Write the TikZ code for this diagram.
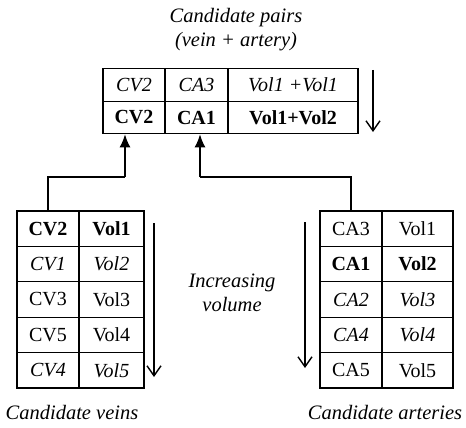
\documentclass[tikz,border=0pt]{standalone}
\usepackage{fontspec}
\setmainfont{Liberation Serif}
\usetikzlibrary{arrows.meta, positioning}

\begin{document}
\begin{tikzpicture}[x=1pt, y=-1pt,
		every node/.style = {font=\fontsize{20}{22}\selectfont},
		cell/.style = {draw, line width=1.2pt, inner sep=0pt, minimum height=35.4pt},
		toprow/.style = {draw, line width=1.2pt, inner sep=0pt, minimum height=32.5pt},
		lbl/.style = {font=\fontsize{20.5}{24}\selectfont\itshape, align=center},
		link/.style = {draw=black, line width=1.4pt},
		fall/.style = {draw=black, line width=1.4pt, -{Straight Barb[length=10pt, width=14pt]}}
                    ]
		\useasboundingbox (0,0) rectangle (466,428);

		% candidate pairs
		\node(title) [lbl] at (236,30) {Candidate pairs\\(vein + artery)};
		\node(p1a) [toprow, minimum width=62pt]  at (134,85) {\itshape CV2};
		\node(p1b) [toprow, minimum width=63pt]  at (196.5,85) {\itshape CA3};
		\node(p1c) [toprow, minimum width=130pt] at (293,85) {\itshape Vol1 +Vol1};
		\node(p2a) [toprow, minimum width=62pt]  at (134,117.5) {\bfseries CV2};
		\node(p2b) [toprow, minimum width=63pt]  at (196.5,117.5) {\bfseries CA1};
		\node(p2c) [toprow, minimum width=130pt] at (293,117.5) {\bfseries Vol1+Vol2};

		% candidate veins
		\node(v1a) [cell, minimum width=62pt] at (48,228.7) {\bfseries CV2};
		\node(v1b) [cell, minimum width=65pt] at (111.5,228.7) {\bfseries Vol1};
		\node(v2a) [cell, minimum width=62pt] at (48,264.1) {\itshape CV1};
		\node(v2b) [cell, minimum width=65pt] at (111.5,264.1) {\itshape Vol2};
		\node(v3a) [cell, minimum width=62pt] at (48,299.5) {CV3};
		\node(v3b) [cell, minimum width=65pt] at (111.5,299.5) {Vol3};
		\node(v4a) [cell, minimum width=62pt] at (48,334.9) {CV5};
		\node(v4b) [cell, minimum width=65pt] at (111.5,334.9) {Vol4};
		\node(v5a) [cell, minimum width=62pt] at (48,370.3) {\itshape CV4};
		\node(v5b) [cell, minimum width=65pt] at (111.5,370.3) {\itshape Vol5};
		\node(veins) [lbl] at (72,412) {Candidate veins};

		% candidate arteries
		\node(a1a) [cell, minimum width=62pt] at (351,228.7) {CA3};
		\node(a1b) [cell, minimum width=71pt] at (417.5,228.7) {Vol1};
		\node(a2a) [cell, minimum width=62pt] at (351,264.1) {\bfseries CA1};
		\node(a2b) [cell, minimum width=71pt] at (417.5,264.1) {\bfseries Vol2};
		\node(a3a) [cell, minimum width=62pt] at (351,299.5) {\itshape CA2};
		\node(a3b) [cell, minimum width=71pt] at (417.5,299.5) {\itshape Vol3};
		\node(a4a) [cell, minimum width=62pt] at (351,334.9) {\itshape CA4};
		\node(a4b) [cell, minimum width=71pt] at (417.5,334.9) {\itshape Vol4};
		\node(a5a) [cell, minimum width=62pt] at (351,370.3) {CA5};
		\node(a5b) [cell, minimum width=71pt] at (417.5,370.3) {Vol5};
		\node(arteries) [lbl] at (385,412) {Candidate arteries};

		\node(incr) [lbl] at (232,293) {Increasing\\volume};

		% links to the pair table
		\coordinate(jv) at (125,177);
		\coordinate(ja) at (200,177);
		\path[link] (v1a.north) |- (jv);
		\path[link, -{Latex[length=13pt, width=11pt]}] (jv) -- (jv |- p2a.south);
		\path[link] (a1a.north) |- (ja);
		\path[link, -{Latex[length=13pt, width=11pt]}] (ja) -- (ja |- p2b.south);

		% increasing volume
		\coordinate(s1) at (373,70);  \coordinate(e1) at (373,132);
		\coordinate(s2) at (154,223); \coordinate(e2) at (154,377);
		\coordinate(s3) at (305,222); \coordinate(e3) at (305,368);
		\path[fall] (s1) -- (e1);
		\path[fall] (s2) -- (e2);
		\path[fall] (s3) -- (e3);
	\end{tikzpicture}
\end{document}
